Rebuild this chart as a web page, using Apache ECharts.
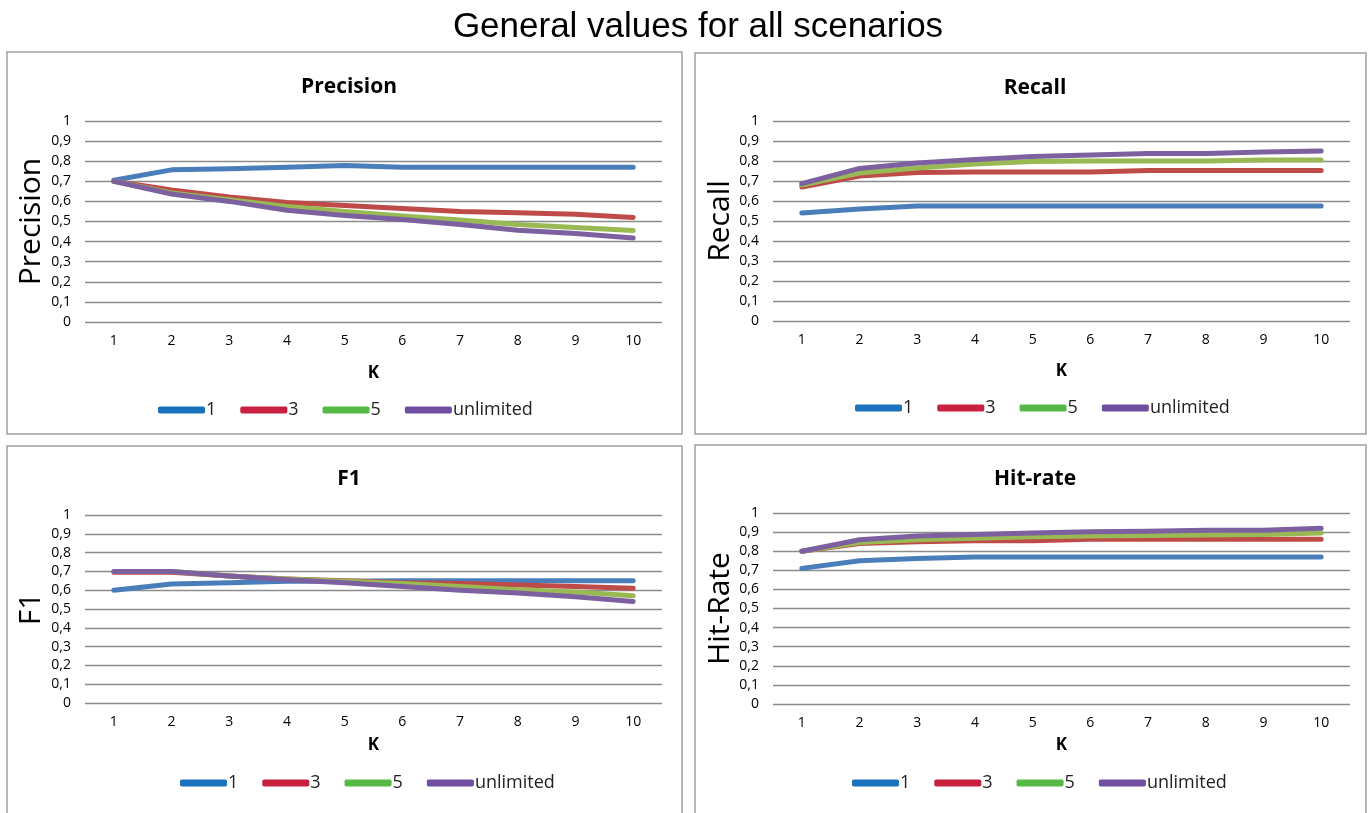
<!DOCTYPE html>
<html>
<head>
<meta charset="utf-8">
<script src="https://cdn.jsdelivr.net/npm/echarts@6/dist/echarts.min.js"></script>
<style>
html,body{margin:0;padding:0;background:#fff;}
#c{width:1370px;height:813px;}
</style>
</head>
<body>
<div id="c"></div>
<script>
// ---- data ----
const kLabels = ['1','2','3','4','5','6','7','8','9','10'];
const seriesNames = ['1','3','5','unlimited'];

const precision1   = [0.705,0.757,0.763,0.770,0.778,0.770,0.770,0.770,0.770,0.770];
const precision3   = [0.700,0.657,0.622,0.595,0.580,0.565,0.550,0.544,0.536,0.520];
const precision5   = [0.700,0.642,0.608,0.575,0.550,0.528,0.508,0.485,0.470,0.455];
const precisionUnl = [0.700,0.637,0.600,0.556,0.530,0.510,0.485,0.456,0.440,0.418];

const recall1   = [0.540,0.560,0.575,0.575,0.575,0.575,0.575,0.575,0.575,0.575];
const recall3   = [0.670,0.725,0.742,0.745,0.745,0.745,0.752,0.752,0.752,0.752];
const recall5   = [0.680,0.740,0.765,0.785,0.798,0.800,0.800,0.800,0.805,0.805];
const recallUnl = [0.687,0.763,0.790,0.808,0.822,0.830,0.838,0.838,0.845,0.850];

const f1_1   = [0.600,0.633,0.640,0.647,0.648,0.650,0.650,0.650,0.650,0.650];
const f1_3   = [0.695,0.695,0.675,0.660,0.650,0.640,0.635,0.628,0.620,0.610];
const f1_5   = [0.700,0.700,0.675,0.660,0.648,0.635,0.620,0.602,0.590,0.570];
const f1_Unl = [0.700,0.700,0.675,0.655,0.640,0.620,0.600,0.585,0.565,0.540];

const hit1   = [0.710,0.750,0.762,0.770,0.770,0.770,0.770,0.770,0.770,0.770];
const hit3   = [0.800,0.840,0.850,0.855,0.855,0.862,0.863,0.863,0.863,0.863];
const hit5   = [0.800,0.845,0.860,0.868,0.875,0.880,0.882,0.885,0.888,0.895];
const hitUnl = [0.800,0.860,0.880,0.888,0.895,0.902,0.905,0.910,0.910,0.920];

const panelTitles = ['Precision','Recall','F1','Hit-rate'];
const yNames = ['Precision','Recall','F1','Hit-Rate'];
const xName = 'K';
const panelData = [
  [precision1, precision3, precision5, precisionUnl],
  [recall1, recall3, recall5, recallUnl],
  [f1_1, f1_3, f1_5, f1_Unl],
  [hit1, hit3, hit5, hitUnl]
];

// ---- styling / layout ----
const lineColors = ['#4a7ebb','#be4b48','#98b954','#7d60a0'];
const legendColors = ['#1a72bd','#c8203f','#56b946','#6f4fa0'];
const grids = [
  {left:85,  width:577, top:121, height:201},
  {left:773, width:577, top:121, height:200},
  {left:85,  width:577, top:515, height:188},
  {left:773, width:577, top:513, height:191}
];
const panels = [
  {x:7,   y:52,  w:675, h:382},
  {x:695, y:53,  w:671, h:381},
  {x:7,   y:446, w:675, h:380},
  {x:695, y:445, w:671, h:380}
];
const titleTops = [72, 73, 464, 464];
const titleCx = [344, 1030, 344, 1030];
const xNameGaps = [43, 42, 34, 33];
const yNameGaps = [39, 35, 39, 35];
const legendPos = [{left:158, top:401},{left:855, top:399},{left:180, top:774},{left:852, top:774}];

const fmt = v => String(Math.round(v*10)/10).replace('.', ',');

const option = {
  animation:false,
  backgroundColor:'#fff',
  title: [{
    text:'General values for all scenarios',
    left:693, top:5, textAlign:'center',
    textStyle:{fontFamily:'Liberation Sans, Arial', fontSize:35, fontWeight:'normal', color:'#000'}
  }].concat(panelTitles.map((t,i)=>({
    text:t, left:titleCx[i], top:titleTops[i], textAlign:'center',
    textStyle:{fontFamily:'Open Sans', fontSize:21, fontWeight:'bold', color:'#000'}
  }))),
  graphic: panels.map(p=>({
    type:'rect', shape:{x:p.x, y:p.y, width:p.w, height:p.h},
    style:{fill:'none', stroke:'#a0a0a0', lineWidth:1.5}, silent:true, z:-1
  })),
  grid: grids,
  legend: legendPos.map((lp,i)=>({
    left:lp.left, top:lp.top, orient:'horizontal', padding:0,
    itemWidth:47, itemHeight:7, itemGap:24, icon:'roundRect',
    textStyle:{fontFamily:'Open Sans', fontSize:18, color:'#222', padding:[0,0,0,-4]},
    data: seriesNames.map((n,j)=>({name:n, itemStyle:{color:legendColors[j]}})),
    selectedMode:false
  })),
  xAxis: grids.map((g,i)=>({
    type:'category', gridIndex:i, data:kLabels, boundaryGap:true,
    name:xName, nameLocation:'middle', nameGap:xNameGaps[i],
    nameTextStyle:{fontFamily:'Open Sans', fontSize:17, fontWeight:'bold', color:'#000'},
    axisLine:{show:false}, axisTick:{show:false},
    axisLabel:{fontFamily:'Open Sans', fontSize:14, color:'#000', margin:12}
  })),
  yAxis: grids.map((g,i)=>({
    type:'value', gridIndex:i, min:0, max:1, interval:0.1,
    name:yNames[i], nameLocation:'middle', nameGap:yNameGaps[i],
    nameTextStyle:{fontFamily:'Open Sans', fontSize:30, color:'#000'},
    axisLine:{show:false}, axisTick:{show:false},
    axisLabel:{fontFamily:'Open Sans', fontSize:14, color:'#000', margin:14, formatter:fmt},
    splitLine:{lineStyle:{color:'#8c8c8c', width:1.4}}
  })),
  series: []
};

panelData.forEach((arrs,i)=>{
  arrs.forEach((d,j)=>{
    option.series.push({
      type:'line', name:seriesNames[j], xAxisIndex:i, yAxisIndex:i, data:d,
      showSymbol:false, symbol:'none', smooth:false,
      lineStyle:{color:lineColors[j], width:5, cap:'round', join:'round'},
      itemStyle:{color:lineColors[j]},
      legendHoverLink:false
    });
  });
});

const chart = echarts.init(document.getElementById('c'), null, {renderer:'canvas'});
chart.setOption(option);
</script>
</body>
</html>
